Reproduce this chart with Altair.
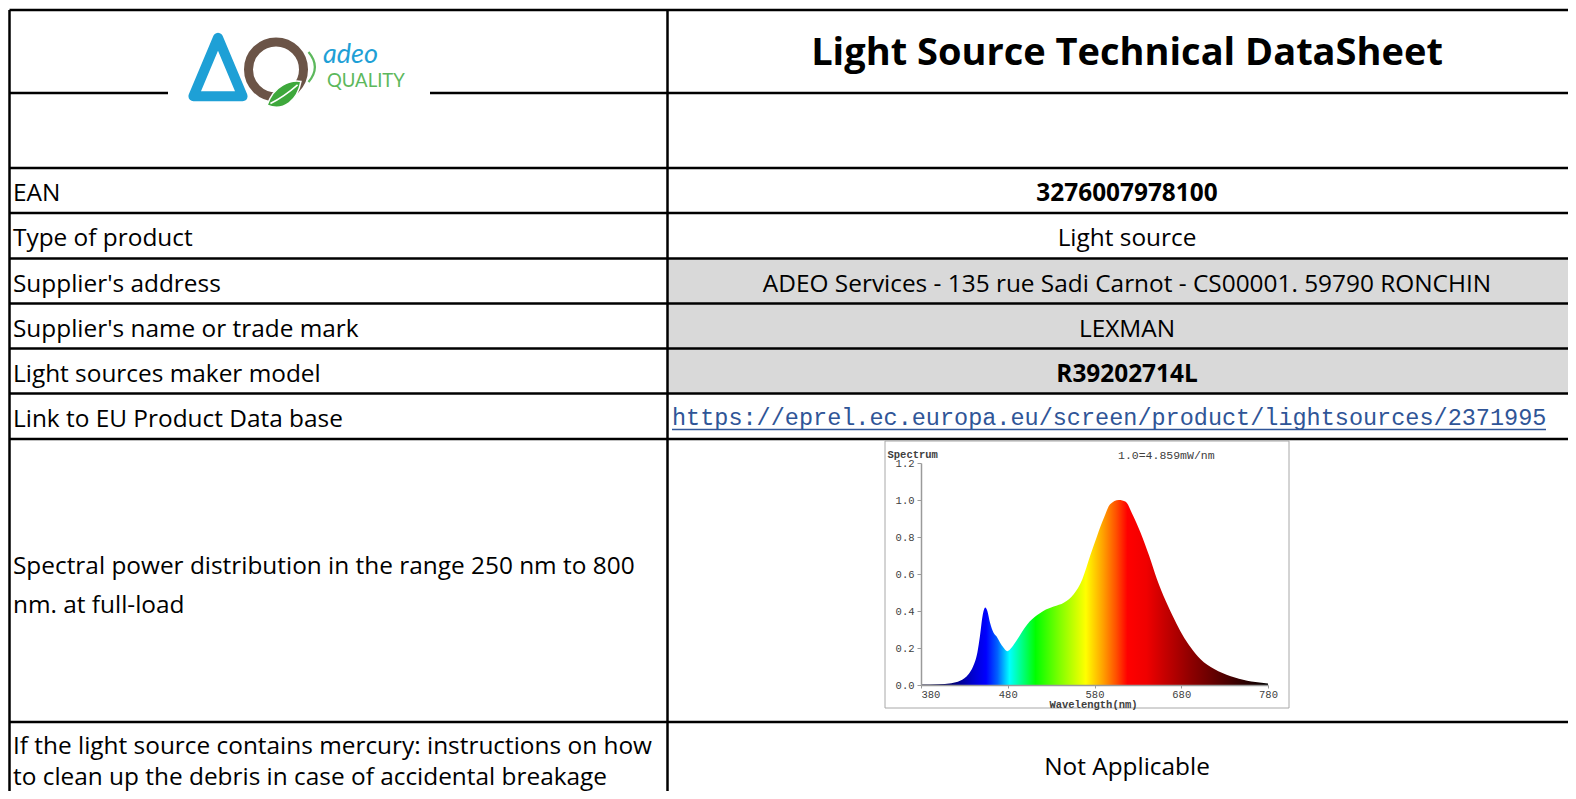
import altair as alt
import pandas as pd

# ------------------------------------------------------------------ data
title_text = "Light Source Technical DataSheet"
row_labels = [
    ["EAN"],
    ["Type of product"],
    ["Supplier's address"],
    ["Supplier's name or trade mark"],
    ["Light sources maker model"],
    ["Link to EU Product Data base"],
    ["Spectral power distribution in the range 250 nm to 800", "nm. at full-load"],
    ["If the light source contains mercury: instructions on how",
     "to clean up the debris in case of accidental breakage"],
]
row_values = [
    "3276007978100",
    "Light source",
    "ADEO Services - 135 rue Sadi Carnot - CS00001. 59790 RONCHIN",
    "LEXMAN",
    "R39202714L",
    "",
    "",
    "Not Applicable",
]
value_bold = [True, False, False, False, True, False, False, False]
value_shaded = [False, False, True, True, True, False, False, False]
link_text = "https://eprel.ec.europa.eu/screen/product/lightsources/2371995"
logo_word = "adeo"
logo_sub = "QUALITY"

spectrum_note = "1.0=4.859mW/nm"
x_title = "Wavelength(nm)"
y_title = "Spectrum"
wavelength = [380, 400, 415, 425, 435, 440, 445, 448, 451, 454, 456.5, 459.5, 463.5,
              467, 471, 475, 479.5, 484.5, 490, 496, 502, 508, 514, 521, 533, 545,
              556, 566, 575, 583, 591, 598, 608, 616, 623, 633, 643, 652, 662, 672,
              681, 691, 702, 718, 737, 756, 775, 780]
intensity = [0.003, 0.004, 0.010, 0.023, 0.060, 0.100, 0.176, 0.266, 0.374, 0.419,
             0.400, 0.338, 0.284, 0.263, 0.230, 0.203, 0.183, 0.203, 0.239, 0.284,
             0.325, 0.355, 0.378, 0.400, 0.424, 0.446, 0.491, 0.572, 0.698, 0.806,
             0.905, 0.977, 1.000, 0.990, 0.930, 0.824, 0.698, 0.572, 0.455, 0.356,
             0.275, 0.203, 0.140, 0.086, 0.047, 0.023, 0.011, 0.008]
x_ticks = [380, 480, 580, 680, 780]
y_ticks = [0.0, 0.2, 0.4, 0.6, 0.8, 1.0, 1.2]

# ------------------------------------------------------------------ layout / style
W, H = 1560, 783
PAGE = 8
row_edges = [10, 93, 168, 213, 258.5, 303.5, 348.5, 393.5, 439, 722, 799]
line_gap = {6: 39, 7: 31}
base_shift = {6: 2.5, 7: -2}
value_shift = {7: 4}
left_x, mid_x, right_x = 9.5, 667.5, 1590
text_left_x = 13
value_cx = 1127
FONT = "Open Sans"
FS = 24.4
LINE_W = 2.5
SHADE = "#d9d9d9"
LINK_COL = "#2f5597"
MONO = "Liberation Mono"
AX_COL = "#9a9a9a"
TXT_COL = "#404040"

spec_box = dict(x1=885, x2=1289, y1=441, y2=708)
spec_x_px = (921, 1268)
spec_y_px = (685, 463)

grad_nm = [380, 420, 440, 455, 468, 482, 495, 512, 540, 570, 590, 605, 618, 640, 660, 690, 720, 750, 780]
grad_col = ["#000020", "#000080", "#0000d0", "#0000ff", "#0060ff", "#00ffff", "#00ff90",
            "#00ff00", "#80ff00", "#ffff00", "#ffa000", "#ff5000", "#ff0000", "#f00000",
            "#c80000", "#900000", "#600000", "#300000", "#000000"]

XS = alt.Scale(domain=[PAGE, PAGE + W], range=[0, W], nice=False, zero=False)
YS = alt.Scale(domain=[PAGE, PAGE + H], range=[0, H], nice=False, zero=False)


def X(f):
    return alt.X(f, type="quantitative", scale=XS, axis=None)


def Y(f):
    return alt.Y(f, type="quantitative", scale=YS, axis=None)


# ------------------------------------------------------------------ table geometry
hl = pd.DataFrame({"y": row_edges[:-1], "x1": left_x, "x2": right_x})
vl = pd.DataFrame({"x": [left_x, mid_x], "y1": row_edges[0], "y2": 805})

shade_rows = []
for k, s in enumerate(value_shaded):
    if s:
        shade_rows.append({"x1": mid_x, "x2": right_x,
                           "y1": row_edges[k + 2], "y2": row_edges[k + 3]})
shade_df = pd.DataFrame(shade_rows)

lab_rows, val_rows = [], []
for k, lines in enumerate(row_labels):
    top, bot = row_edges[k + 2], row_edges[k + 3]
    c = (top + bot) / 2 + 10.5
    n = len(lines)
    g = line_gap.get(k, 0)
    for i, t in enumerate(lines):
        lab_rows.append({"t": t, "x": text_left_x,
                         "y": c + base_shift.get(k, 0) + (i - (n - 1) / 2) * g})
    if row_values[k]:
        val_rows.append({"t": row_values[k], "x": value_cx, "y": c + value_shift.get(k, 0),
                         "b": value_bold[k]})
lab_df = pd.DataFrame(lab_rows)
val_df = pd.DataFrame(val_rows)

lines_h = alt.Chart(hl).mark_rule(color="black", strokeWidth=LINE_W).encode(
    x=X("x1"), x2="x2", y=Y("y"))
lines_v = alt.Chart(vl).mark_rule(color="black", strokeWidth=LINE_W).encode(
    x=X("x"), y=Y("y1"), y2="y2")
shade = alt.Chart(shade_df).mark_rect(color=SHADE).encode(
    x=X("x1"), x2="x2", y=Y("y1"), y2="y2")

labels = alt.Chart(lab_df).mark_text(align="left", baseline="alphabetic", font=FONT,
                                     fontSize=FS, color="black").encode(
    x=X("x"), y=Y("y"), text="t:N")
vals_n = alt.Chart(val_df[~val_df.b]).mark_text(align="center", baseline="alphabetic",
                                                font=FONT, fontSize=FS, color="black").encode(
    x=X("x"), y=Y("y"), text="t:N")
vals_b = alt.Chart(val_df[val_df.b]).mark_text(align="center", baseline="alphabetic",
                                               font=FONT, fontSize=FS, fontWeight="bold",
                                               color="black").encode(
    x=X("x"), y=Y("y"), text="t:N")

title_df = pd.DataFrame({"t": [title_text], "x": [value_cx], "y": [65]})
title = alt.Chart(title_df).mark_text(align="center", baseline="alphabetic", font=FONT,
                                      fontSize=38, fontWeight="bold", color="black").encode(
    x=X("x"), y=Y("y"), text="t:N")

link_df = pd.DataFrame({"t": [link_text], "x": [672], "y": [425], "x2": [1546], "u": [429.5]})
link = alt.Chart(link_df).mark_text(align="left", baseline="alphabetic", font=MONO,
                                    fontSize=23.5, color=LINK_COL).encode(
    x=X("x"), y=Y("y"), text="t:N")
link_ul = alt.Chart(link_df).mark_rule(color=LINK_COL, strokeWidth=1.5).encode(
    x=X("x"), x2="x2", y=Y("u"))

# logo
logo_bg = alt.Chart(pd.DataFrame({"x1": [168], "x2": [430], "y1": [20], "y2": [106]})).mark_rect(
    color="white").encode(x=X("x1"), x2="x2", y=Y("y1"), y2="y2")
ring = alt.Chart(pd.DataFrame({"x": [276], "y": [69.5]})).mark_point(
    shape="circle", filled=False, stroke="#6b5447", strokeWidth=9, size=3025, opacity=1).encode(
    x=X("x"), y=Y("y"))
tri = alt.Chart(pd.DataFrame({"x": [218], "y": [67]})).mark_point(
    shape="M0,-1L0.84,1L-0.84,1Z", filled=False, stroke="#1ea0d6", strokeWidth=10,
    strokeJoin="round", size=3420, opacity=1).encode(x=X("x"), y=Y("y"))
leaf = alt.Chart(pd.DataFrame({"x": [284], "y": [95]})).mark_point(
    shape="M-1,0.6C-0.6,-0.6 0.4,-0.9 1,-0.8C0.8,0.3 0,1 -1,0.6Z", filled=True,
    fill="#3ea83c", stroke="white", strokeWidth=1.5, size=1150, opacity=1).encode(
    x=X("x"), y=Y("y"))
leaf_vein = alt.Chart(pd.DataFrame({"x": [284], "y": [95]})).mark_point(
    shape="M-0.8,0.5Q0,0.1 0.8,-0.6", filled=False, stroke="white", strokeWidth=1.5,
    size=1150, opacity=1).encode(x=X("x"), y=Y("y"))
paren = alt.Chart(pd.DataFrame({"x": [313], "y": [67]})).mark_point(
    shape="M-0.3,-1Q0.55,0 -0.3,1", filled=False, stroke="#5cb85c", strokeWidth=2.2,
    size=900, opacity=1).encode(x=X("x"), y=Y("y"))
adeo = alt.Chart(pd.DataFrame({"t": [logo_word], "x": [323], "y": [63]})).mark_text(
    align="left", baseline="alphabetic", font="Lato", fontStyle="italic", fontSize=27,
    color="#1ea0d6").encode(x=X("x"), y=Y("y"), text="t:N")
quality = alt.Chart(pd.DataFrame({"t": [logo_sub], "x": [327], "y": [87]})).mark_text(
    align="left", baseline="alphabetic", font="Lato", fontSize=18.5,
    color="#5cb85c").encode(x=X("x"), y=Y("y"), text="t:N")

# spectrum frame and note
frame = alt.Chart(pd.DataFrame([spec_box])).mark_rect(
    fill="white", stroke="#a8a8a8", strokeWidth=1).encode(
    x=X("x1"), x2="x2", y=Y("y1"), y2="y2")
note = alt.Chart(pd.DataFrame({"t": [spectrum_note], "x": [1118], "y": [459]})).mark_text(
    align="left", baseline="alphabetic", font=MONO, fontSize=11.5, color=TXT_COL).encode(
    x=X("x"), y=Y("y"), text="t:N")

table = alt.layer(shade, lines_h, lines_v, logo_bg, ring, tri, leaf, leaf_vein, paren,
                  adeo, quality, title, labels, vals_n, vals_b, link, link_ul, frame, note)

# ------------------------------------------------------------------ spectrum plot
spec_df = pd.DataFrame({"wl": wavelength, "v": intensity})
SX = alt.Scale(domain=[380, 780], range=[spec_x_px[0] - PAGE, spec_x_px[1] - PAGE],
               nice=False, zero=False)
SY = alt.Scale(domain=[0, 1.2], range=[spec_y_px[0] - PAGE, spec_y_px[1] - PAGE],
               nice=False, zero=False)

grad = alt.Gradient(
    gradient="linear",
    stops=[alt.GradientStop(color=c, offset=(n - 380) / 400) for n, c in zip(grad_nm, grad_col)],
    x1=0, x2=1, y1=0, y2=0)

x_axis = alt.Axis(
    orient="bottom", offset=-(H - (spec_y_px[0] - PAGE)), values=x_ticks, format="d",
    grid=False, zindex=1, domainColor=AX_COL, domainWidth=1.5, tickColor=AX_COL, tickWidth=1,
    tickSize=3, labelFont=MONO, labelFontSize=10.5, labelColor=TXT_COL, labelPadding=1,
    labelFlush=False,
    labelAlign={"condition": {"test": "datum.value == 380", "value": "left"}, "value": "center"},
    title=x_title, titleFont=MONO, titleFontSize=10.5, titleFontWeight="bold",
    titleColor=TXT_COL, titleX=1093 - PAGE, titleY=22, titleAlign="center",
    titleBaseline="alphabetic")
y_axis = alt.Axis(
    orient="left", offset=-(spec_x_px[0] - PAGE), values=y_ticks, format=".1f",
    grid=False, zindex=1, domainColor=AX_COL, domainWidth=1.5, tickColor=AX_COL, tickWidth=1,
    tickSize=4, labelFont=MONO, labelFontSize=10.5, labelColor=TXT_COL, labelPadding=3,
    labelFlush=False,
    title=y_title, titleFont=MONO, titleFontSize=10.5, titleFontWeight="bold",
    titleColor=TXT_COL, titleAngle=0, titleAlign="left", titleBaseline="alphabetic",
    titleX=887 - spec_x_px[0], titleY=457 - PAGE)

area = alt.Chart(spec_df).mark_area(color=grad, interpolate="monotone", opacity=1).encode(
    x=alt.X("wl:Q", scale=SX, axis=x_axis),
    y=alt.Y("v:Q", scale=SY, axis=y_axis))

chart = alt.layer(table, area).resolve_scale(x="independent", y="independent").properties(
    width=W, height=H, padding=0, autosize=alt.AutoSizeParams(type="none"),
    background="white").configure_view(strokeWidth=0)

chart.save("out.html", embed_options={"renderer": "svg", "actions": False})
